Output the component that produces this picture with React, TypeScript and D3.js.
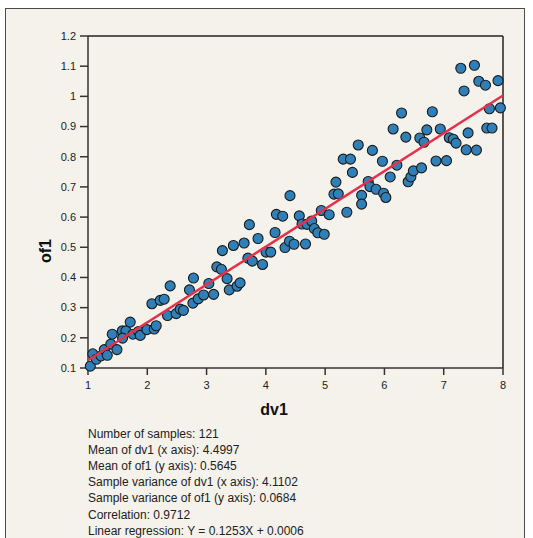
import React from "react";
import * as d3 from "d3";

// dv1 / of1 sample pairs
const dv1: number[] = [
  1.039, 1.081, 1.14, 1.219, 1.275, 1.325, 1.384, 1.409, 1.488, 1.578,
  1.64, 1.583, 1.712, 1.758, 1.852, 1.881, 1.994, 2.117, 2.15, 2.078,
  2.218, 2.285, 2.386, 2.341, 2.487, 2.555, 2.61, 2.711, 2.769, 2.779,
  2.858, 2.95, 3.038, 3.119, 3.173, 3.25, 3.267, 3.346, 3.383, 3.452,
  3.515, 3.565, 3.633, 3.697, 3.722, 3.772, 3.868, 3.944, 4.003, 4.082,
  4.155, 4.177, 4.284, 4.323, 4.399, 4.407, 4.475, 4.564, 4.61, 4.669,
  4.694, 4.773, 4.817, 4.876, 4.935, 4.985, 5.068, 5.149, 5.182, 5.221,
  5.305, 5.366, 5.427, 5.46, 5.558, 5.615, 5.615, 5.726, 5.755, 5.797,
  5.859, 5.966, 5.986, 6.024, 6.097, 6.147, 6.21, 6.289, 6.361, 6.4,
  6.446, 6.488, 6.597, 6.626, 6.668, 6.715, 6.808, 6.87, 6.942, 7.047,
  7.094, 7.161, 7.208, 7.288, 7.343, 7.379, 7.411, 7.518, 7.552, 7.591,
  7.704, 7.726, 7.771, 7.815, 7.916, 7.956,
];
const of1: number[] = [
  0.106, 0.147, 0.129, 0.14, 0.161, 0.142, 0.179, 0.212, 0.161, 0.223,
  0.223, 0.199, 0.252, 0.212, 0.221, 0.208, 0.227, 0.229, 0.24, 0.313,
  0.324, 0.328, 0.372, 0.274, 0.28, 0.295, 0.291, 0.359, 0.315, 0.398,
  0.329, 0.342, 0.38, 0.344, 0.435, 0.427, 0.489, 0.396, 0.359, 0.506,
  0.371, 0.382, 0.514, 0.464, 0.575, 0.454, 0.529, 0.443, 0.484, 0.484,
  0.549, 0.609, 0.603, 0.499, 0.52, 0.671, 0.51, 0.604, 0.577, 0.511,
  0.576, 0.587, 0.562, 0.548, 0.622, 0.543, 0.608, 0.676, 0.716, 0.677,
  0.792, 0.616, 0.792, 0.748, 0.839, 0.672, 0.643, 0.718, 0.701, 0.821,
  0.692, 0.785, 0.679, 0.665, 0.733, 0.892, 0.772, 0.945, 0.865, 0.717,
  0.733, 0.753, 0.862, 0.763, 0.848, 0.889, 0.949, 0.786, 0.892, 0.787,
  0.863, 0.858, 0.845, 1.093, 1.018, 0.823, 0.879, 1.103, 0.822, 1.05,
  1.037, 0.895, 0.959, 0.895, 1.052, 0.962,
];

const xTicks: number[] = [1, 2, 3, 4, 5, 6, 7, 8];
const yTicks: number[] = [0.1, 0.2, 0.3, 0.4, 0.5, 0.6, 0.7, 0.8, 0.9, 1, 1.1, 1.2];

// summary statistics and fitted line
const slope = 0.1253;
const intercept = 0.0006;
const statLines: string[] = [
  "Number of samples: 121",
  "Mean of dv1 (x axis): 4.4997",
  "Mean of of1 (y axis): 0.5645",
  "Sample variance of dv1 (x axis): 4.1102",
  "Sample variance of of1 (y axis): 0.0684",
  "Correlation: 0.9712",
  "Linear regression: Y = 0.1253X + 0.0006",
];

const FONT = "'Liberation Sans', Arial, Helvetica, sans-serif";

export default function App() {
  const left = 88, right = 503, top = 36, bottom = 368;
  const x = d3.scaleLinear().domain([1, 8]).range([left, right]);
  const y = d3.scaleLinear().domain([0.1, 1.2]).range([bottom, top]);
  const fmt = (v: number) => String(+v.toFixed(1));

  const lineGen = d3
    .line<number>()
    .x((d) => x(d))
    .y((d) => y(slope * d + intercept));

  return (
    <svg
      width={533}
      height={538}
      style={{ position: "absolute", left: 0, top: 0, background: "#fff" }}
      fontFamily={FONT}
    >
      <rect x={5.5} y={8.5} width={519} height={545} fill="#f5f1eb" stroke="#4a4a4a" strokeWidth={1} />

      {/* frame */}
      <line x1={left} x2={right} y1={top} y2={top} stroke="#222" strokeWidth={1.5} />
      <line x1={right} x2={right} y1={top} y2={bottom} stroke="#222" strokeWidth={1.5} />
      <line x1={left} x2={left} y1={top} y2={bottom} stroke="#333" strokeWidth={1.5} />
      <line x1={left} x2={right} y1={bottom} y2={bottom} stroke="#333" strokeWidth={1.5} />

      {/* y axis */}
      {yTicks.map((t) => (
        <g key={"y" + t}>
          <line x1={left - 8} x2={left} y1={y(t)} y2={y(t)} stroke="#333" strokeWidth={1.5} />
          <text x={left - 12} y={y(t)} dy="0.35em" textAnchor="end" fontSize={11} fill="#222">
            {fmt(t)}
          </text>
        </g>
      ))}

      {/* x axis */}
      {xTicks.map((t) => (
        <g key={"x" + t}>
          <line x1={x(t)} x2={x(t)} y1={bottom} y2={bottom + 7} stroke="#333" strokeWidth={1.5} />
          <text x={x(t)} y={bottom + 21} textAnchor="middle" fontSize={11} fill="#222">
            {t}
          </text>
        </g>
      ))}

      {/* axis titles */}
      <text x={274} y={415} textAnchor="middle" fontSize={16} fontWeight="bold" fill="#111">
        dv1
      </text>
      <text
        transform="translate(51,251) rotate(-90)"
        textAnchor="middle"
        fontSize={16}
        fontWeight="bold"
        fill="#111"
      >
        of1
      </text>

      {/* samples */}
      {dv1.map((v, i) => (
        <circle
          key={i}
          cx={x(v)}
          cy={y(of1[i])}
          r={5}
          fill="#2f80b8"
          stroke="#1a1a1a"
          strokeWidth={1.1}
        />
      ))}

      {/* regression line */}
      <path d={lineGen([1, 8]) ?? ""} fill="none" stroke="#e8304a" strokeWidth={2.5} />

      {/* statistics */}
      {statLines.map((s, i) => (
        <text key={s} x={88} y={438 + i * 16.1} fontSize={12} fill="#222">
          {s}
        </text>
      ))}
    </svg>
  );
}
